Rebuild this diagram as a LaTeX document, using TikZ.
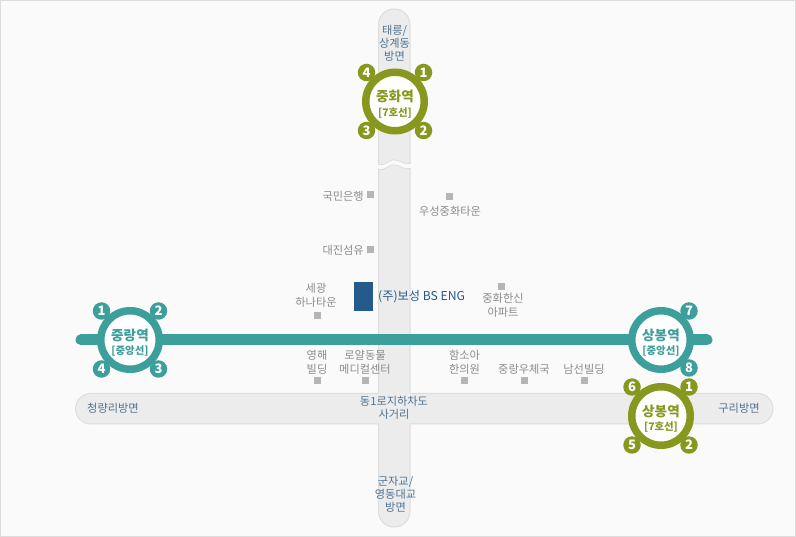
\documentclass[tikz,border=0pt]{standalone}
\usepackage{fontspec}
\setmainfont{Noto Sans CJK KR}
\definecolor{teal1}{HTML}{3D9F9C}
\definecolor{olive1}{HTML}{88981F}
\definecolor{road}{HTML}{ECECEC}
\definecolor{roadedge}{HTML}{DDDDDD}
\definecolor{lab}{HTML}{8C8C8C}
\definecolor{dirlab}{HTML}{4F7490}
\definecolor{bs}{HTML}{255A8C}
\definecolor{mk}{HTML}{B5B5B5}
\tikzset{
 x=1pt,y=-1pt,
 station/.style={circle,draw=#1,line width=7.5pt,fill=white,minimum size=58.5pt,inner sep=0pt,align=center,text=#1,font=\fontsize{13.6}{14}\selectfont\bfseries},
 badge/.style={circle,fill=#1,minimum size=17.5pt,inner sep=0pt,text=white,font=\fontsize{13}{13}\selectfont\bfseries},
 place/.style={text=lab,align=center,inner sep=0pt,font=\fontsize{11.2}{13.5}\selectfont},
 dirl/.style={text=dirlab,align=center,inner sep=0pt,font=\fontsize{11.2}{13}\selectfont},
 marker/.style={fill=mk,minimum size=7pt,inner sep=0pt,outer sep=0pt,rectangle},
 roadb/.style={fill=road,draw=roadedge,line width=1pt},
}
\newcommand{\subl}[2]{\rule{0pt}{17pt}#1\\[0.5pt]{\fontsize{10.4}{11}\selectfont #2}}
\begin{document}
\begin{tikzpicture}
\useasboundingbox (0,0) rectangle (796,537);
\draw[fill=white!98!black,draw=roadedge,line width=1pt] (0.5,0.5) rectangle (795.5,536.5);
% roads
\draw[roadb,rounded corners=15.5pt] (378.5,9) rectangle (410,527);
\draw[roadb,rounded corners=15.25pt] (75.5,393.5) rectangle (773,424);
\fill[road] (379,392.5) rectangle (409.5,425);
% road break
\fill[white!98!black] (376,163.5) .. controls (386,167) and (388,158.5) .. (395,160) .. controls (402,161) and (404,165) .. (412,163.5) -- (412,168.5) .. controls (404,170) and (402,166) .. (395,165) .. controls (388,163.5) and (386,172) .. (376,168.5) -- cycle;
\draw[roadedge,line width=.8pt] (378,164) .. controls (386,167) and (388,158.5) .. (395,160) .. controls (402,161) and (404,165) .. (410.5,163.5);
\draw[roadedge,line width=.8pt] (378,169) .. controls (386,172) and (388,163.5) .. (395,165) .. controls (402,166) and (404,170) .. (410.5,168.5);
% line
\coordinate (lineW) at (81,340);
\coordinate (lineE) at (707,340);
\draw[teal1,line width=11pt,line cap=round] (lineW) -- (lineE);
% road labels
\node[dirl] (dirN) at (394.5,43) {태릉/\\상계동\\방면};
\node[dirl] (dirS) at (395.5,494) {군자교/\\영동대교\\방면};
\node[dirl] (dirC) at (394,407.5) {동1로지하차도\\사거리};
\node[dirl] (dirW) at (113,408) {청량리방면};
\node[dirl] (dirE) at (739,408) {구리방면};
% places
\node[place,anchor=east] (p1) at (364,196) {국민은행};
\node[marker] (m1) at (370.5,195) {};
\node[marker] (m2) at (449.5,197) {};
\node[place] (p2) at (450,211) {우성중화타운};
\node[place,anchor=east] (p3) at (364,250) {대진섬유};
\node[marker] (m3) at (370.5,250) {};
\node[place] (p4) at (316,295.5) {세광\\하나타운};
\node[marker] (m4) at (317.5,315.5) {};
\node[marker] (m5) at (501.5,286.5) {};
\node[place] (p5) at (503,305.5) {중화한신\\아파트};
\node[place] (p6) at (317,362.5) {영해\\빌딩};
\node[marker] (m6) at (317.5,381) {};
\node[place] (p7) at (365,362.5) {로얄동물\\메디컬센터};
\node[marker] (m7) at (365.5,381) {};
\node[place] (p8) at (464.5,362.5) {함소아\\한의원};
\node[marker] (m8) at (464.5,381) {};
\node[place] (p9) at (524,369.5) {중랑우체국};
\node[marker] (m9) at (524.5,381) {};
\node[place] (p10) at (584,369.5) {남선빌딩};
\node[marker] (m10) at (584.5,381) {};
% company
\fill[bs] (354,282) rectangle (373,311);
\node[anchor=west,inner sep=0pt,text=bs,font=\fontsize{12.2}{13}\selectfont] (co) at (378,297) {(주)보성 BS ENG};
% stations
\foreach \nm/\cx/\cy/\col/\ta/\tb/\tc/\td in {jh/395/101.5/olive1/4/1/3/2, jr/130/340/teal1/1/2/4/3}{
  \node[badge=\col] (\nm1) at (\cx-28.5,\cy-29) {\ta};
  \node[badge=\col] (\nm2) at (\cx+28.5,\cy-29) {\tb};
  \node[badge=\col] (\nm3) at (\cx-28.5,\cy+29) {\tc};
  \node[badge=\col] (\nm4) at (\cx+28.5,\cy+29) {\td};
}
\node[station=olive1] (jh) at (395,101.5) {\subl{중화역}{[7호선]}};
\node[station=teal1] (jr) at (130,340) {\subl{중랑역}{[중앙선]}};
\node[badge=teal1] (sc7) at (689,311) {7};
\node[badge=teal1] (sc8) at (689,368) {8};
\node[station=teal1] (sc) at (661,340) {\subl{상봉역}{[중앙선]}};
\node[badge=olive1] (s6) at (632,387) {6};
\node[badge=olive1] (s1) at (689,387) {1};
\node[badge=olive1] (s5) at (632,445) {5};
\node[badge=olive1] (s2) at (689,445) {2};
\node[station=olive1] (s7) at (661,416) {\subl{상봉역}{[7호선]}};
\end{tikzpicture}
\end{document}
